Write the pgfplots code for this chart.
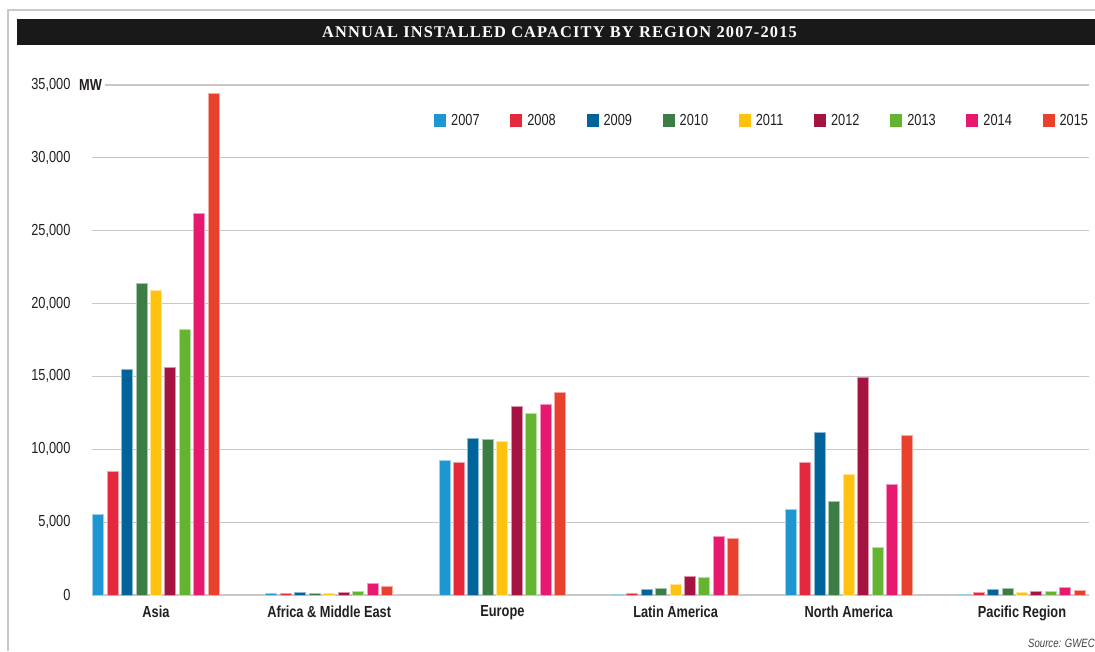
\documentclass[border=0pt]{standalone}
\usepackage{fontspec}
\usepackage{pgfplots}
\pgfplotsset{compat=1.18}
\setmainfont{Liberation Sans}
\newfontfamily\condfont[FakeStretch=0.8]{Liberation Sans}
\newfontfamily\titlefont[LetterSpace=7]{Liberation Serif}

\definecolor{c07}{HTML}{1E96D2}
\definecolor{c08}{HTML}{E6283C}
\definecolor{c09}{HTML}{00649B}
\definecolor{c10}{HTML}{3C7D46}
\definecolor{c11}{HTML}{FFC30F}
\definecolor{c12}{HTML}{A51441}
\definecolor{c13}{HTML}{64B432}
\definecolor{c14}{HTML}{E6196E}
\definecolor{c15}{HTML}{E8412D}
\definecolor{gridgray}{HTML}{C8C8C8}
\definecolor{ink}{HTML}{231F20}

\newcommand{\tickfont}{\condfont\fontsize{16}{18}\selectfont}

\begin{document}
\begin{tikzpicture}
\useasboundingbox (0pt,0pt) rectangle (1095pt,651pt);
% frame and title bar
\draw[gridgray, line width=1.2pt] (8pt,0pt) -- (8pt,641pt) -- (1095pt,641pt);
\fill[black!90] (17pt,606pt) rectangle (1095pt,632pt);
\node[text=white, font=\titlefont\bfseries\fontsize{16.4}{18}\selectfont] at (559.5pt,619pt)
  {ANNUAL INSTALLED CAPACITY BY REGION 2007-2015};

\begin{axis}[
  at={(92pt,56pt)}, anchor=south west,
  scale only axis, width=997pt, height=510pt,
  xmin=-0.3695, xmax=5.387,
  ymin=0, ymax=35000,
  ybar=3.45pt, bar width=11pt,
  axis line style={draw=none},
  major tick length=0pt,
  ymajorgrids, grid style={gridgray, line width=1.2pt},
  ytick={0,5000,...,35000},
  scaled y ticks=false,
  /pgf/number format/assume math mode=true,
  /pgf/number format/1000 sep={,},
  yticklabel style={font=\tickfont, text=ink, xshift=-18pt},
  xtick={0,1,2,3,4,5},
  xticklabels={Asia, Africa \& Middle East, Europe, Latin America, North America, Pacific Region},
  xticklabel style={font=\tickfont\bfseries, text=ink, yshift=-7pt},
  legend columns=-1,
  legend image code/.code={\path[#1, draw=none] (0pt,-6.5pt) rectangle (12pt,6.5pt);},
  legend style={at={(0.343,0.931)}, anchor=west, draw=none, fill=none,
    inner sep=0pt, nodes={inner sep=0pt, font=\tickfont, text=ink},
    /tikz/every odd column/.append style={column sep=5pt},
    /tikz/every even column/.append style={column sep=30.7pt}},
]
\addplot[fill=c07, draw=c07!45!white, line width=1pt] coordinates {(0,5500) (1,130) (2,9250) (3,30) (4,5900) (5,30)};
\addplot[fill=c08, draw=c08!45!white, line width=1pt] coordinates {(0,8500) (1,90) (2,9100) (3,90) (4,9100) (5,150)};
\addplot[fill=c09, draw=c09!45!white, line width=1pt] coordinates {(0,15500) (1,180) (2,10750) (3,380) (4,11150) (5,400)};
\addplot[fill=c10, draw=c10!45!white, line width=1pt] coordinates {(0,21400) (1,120) (2,10650) (3,420) (4,6400) (5,470)};
\addplot[fill=c11, draw=c11!45!white, line width=1pt] coordinates {(0,20900) (1,100) (2,10550) (3,700) (4,8300) (5,170)};
\addplot[fill=c12, draw=c12!45!white, line width=1pt] coordinates {(0,15600) (1,160) (2,12950) (3,1250) (4,14900) (5,220)};
\addplot[fill=c13, draw=c13!45!white, line width=1pt] coordinates {(0,18200) (1,220) (2,12450) (3,1170) (4,3250) (5,220)};
\addplot[fill=c14, draw=c14!45!white, line width=1pt] coordinates {(0,26200) (1,800) (2,13100) (3,4000) (4,7600) (5,500)};
\addplot[fill=c15, draw=c15!45!white, line width=1pt] coordinates {(0,34400) (1,580) (2,13900) (3,3850) (4,10950) (5,330)};
\legend{2007,2008,2009,2010,2011,2012,2013,2014,2015}
\end{axis}

% unit label on the top gridline
\fill[white] (91pt,560pt) rectangle (105pt,572pt);
\node[anchor=west, inner sep=0pt, font=\tickfont\bfseries, text=ink] at (79pt,566pt) {MW};
\node[anchor=west, inner sep=0pt, font=\condfont\itshape\fontsize{12}{14}\selectfont, text=ink!85] at (1028pt,8pt) {Source: GWEC};
\end{tikzpicture}
\end{document}
